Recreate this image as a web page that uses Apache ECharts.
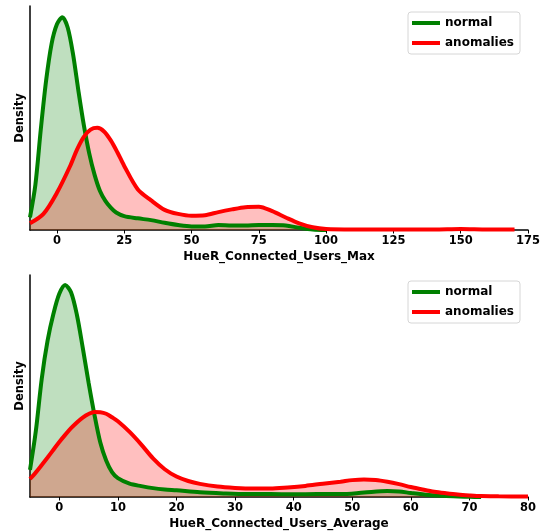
<!DOCTYPE html>
<html>
<head>
<meta charset="utf-8">
<script src="https://cdn.jsdelivr.net/npm/echarts@6/dist/echarts.min.js"></script>
<style>
  html, body { margin: 0; padding: 0; background: #fff; }
  #chart { width: 548px; height: 531px; }
</style>
</head>
<body>
<div id="chart"></div>
<script>
// KDE curves (x value, density)
var maxNormalX = [-10,-8,-6,-4,-2,0,2,4,6,8,10,12,14,16,18,20,22,25,30,35,40,45,50,55,60,65,70,75,80,85,90,95,100];
var maxNormalY = [0.0028,0.0101,0.0224,0.0334,0.0415,0.0459,0.0475,0.0452,0.0392,0.0310,0.0234,0.0171,0.0123,0.0087,0.0065,0.0050,0.0039,0.0031,0.0026,0.0022,0.0016,0.0011,0.0008,0.0008,0.0011,0.0010,0.0010,0.0011,0.0011,0.0010,0.0005,0.0001,0];
var maxAnomX = [-10,-5,0,5,7.5,10,12.5,15,17.5,20,22.5,25,30,35,40,45,50,55,60,65,70,75,80,85,90,95,100,110,120,130,140,150,160,170];
var maxAnomY = [0.0015,0.0036,0.0083,0.0144,0.0180,0.0208,0.0224,0.0228,0.0220,0.0200,0.0173,0.0143,0.0091,0.0066,0.0045,0.0036,0.0032,0.0033,0.0040,0.0046,0.0051,0.0052,0.0042,0.0028,0.0015,0.0006,0.0002,0.0001,0.0001,0.0001,0.0001,0.0002,0.0001,0.0001];

var avgNormalX = [-5,-4,-3,-2,-1,0,1,2,3,4,5,6,7,8,9,10,12,14,16,18,20,24,28,32,36,40,44,48,52,56,58,60,63,66,70,72];
var avgNormalY = [0.0122,0.0298,0.0532,0.0704,0.0825,0.0915,0.0955,0.0922,0.0821,0.0673,0.0515,0.0370,0.0245,0.0164,0.0112,0.0085,0.0060,0.0049,0.0040,0.0034,0.0030,0.0021,0.0016,0.0013,0.0013,0.0012,0.0013,0.0013,0.0020,0.0027,0.0025,0.0018,0.0009,0.0004,0.0001,0];
var avgAnomX = [-5,-4,-3,-2,-1,0,1,2,3,4,5,6,7,8,9,10,12,14,16,18,20,22,24,27,30,33,36,39,42,45,48,50,52,54,56,58,60,62,64,66,68,70,72,75,80];
var avgAnomY = [0.0081,0.0111,0.0144,0.0178,0.0213,0.0248,0.0280,0.0310,0.0336,0.0358,0.0374,0.0383,0.0382,0.0375,0.0359,0.0341,0.0293,0.0236,0.0174,0.0125,0.0092,0.0072,0.0059,0.0047,0.0041,0.0038,0.0038,0.0043,0.0050,0.0060,0.0069,0.0076,0.0079,0.0077,0.0069,0.0058,0.0045,0.0034,0.0024,0.0017,0.0011,0.0007,0.0004,0.0003,0.0002];

var maxTicks = [0,25,50,75,100,125,150,175];
var avgTicks = [0,10,20,30,40,50,60,70,80];
var seriesNames = ['normal', 'anomalies'];
var xTitles = ['HueR_Connected_Users_Max', 'HueR_Connected_Users_Average'];

function pairs(xs, ys){
    var out = [];
    for(var i = 0; i < xs.length; i++){
        out.push([xs[i], ys[i]]);
    }
    return out;
}

var font = 'DejaVu Sans';

function xAxisFor(idx, min, max, ticks){
    return {
        type: 'value', gridIndex: idx, min: min, max: max,
        name: xTitles[idx], nameLocation: 'middle', nameGap: 21,
        nameTextStyle: { fontFamily: font, fontWeight: 'bold', fontSize: 12, color: '#000' },
        axisLine: { onZero: false, lineStyle: { color: '#000', width: 1.5 } },
        axisTick: { show: true, length: 3.5, customValues: ticks, lineStyle: { color: '#000', width: 1 } },
        axisLabel: { customValues: ticks, fontFamily: font, fontWeight: 'bold', fontSize: 11.5, color: '#000', margin: 5 },
        splitLine: { show: false }
    };
}

function yAxisFor(idx, max){
    return {
        type: 'value', gridIndex: idx, min: 0, max: max,
        name: 'Density', nameLocation: 'middle', nameGap: 4,
        nameTextStyle: { fontFamily: font, fontWeight: 'bold', fontSize: 11.5, color: '#000' },
        axisLine: { show: true, onZero: false, lineStyle: { color: '#000', width: 1.5 } },
        axisTick: { show: false },
        axisLabel: { show: false },
        splitLine: { show: false }
    };
}

function kde(name, idx, data, color, fill){
    return {
        name: name, type: 'line', xAxisIndex: idx, yAxisIndex: idx,
        data: data, showSymbol: false, smooth: 0.3,
        lineStyle: { color: color, width: 4 },
        itemStyle: { color: color },
        areaStyle: { color: fill, opacity: 1 },
        animation: false
    };
}

function legendFor(top){
    return {
        data: seriesNames, orient: 'vertical', right: 28, top: top,
        icon: 'rect', itemWidth: 28, itemHeight: 4, itemGap: 8,
        padding: [5, 6, 5, 4],
        borderColor: '#d6d6d6', borderWidth: 1, borderRadius: 3,
        textStyle: { fontFamily: font, fontWeight: 'bold', fontSize: 12, color: '#000' },
        selectedMode: false
    };
}

var chart = echarts.init(document.getElementById('chart'));
chart.setOption({
    backgroundColor: '#fff',
    animation: false,
    grid: [
        { left: 30, right: 20, top: 6, height: 224 },
        { left: 30, right: 20, top: 275, height: 223.5 }
    ],
    legend: [legendFor(12), legendFor(281)],
    xAxis: [xAxisFor(0, -10, 175, maxTicks), xAxisFor(1, -5, 80, avgTicks)],
    yAxis: [yAxisFor(0, 0.05), yAxisFor(1, 0.1)],
    series: [
        kde(seriesNames[0], 0, pairs(maxNormalX, maxNormalY), '#008000', 'rgba(0,128,0,0.25)'),
        kde(seriesNames[1], 0, pairs(maxAnomX, maxAnomY), '#ff0000', 'rgba(255,0,0,0.25)'),
        kde(seriesNames[0], 1, pairs(avgNormalX, avgNormalY), '#008000', 'rgba(0,128,0,0.25)'),
        kde(seriesNames[1], 1, pairs(avgAnomX, avgAnomY), '#ff0000', 'rgba(255,0,0,0.25)')
    ]
});
</script>
</body>
</html>
